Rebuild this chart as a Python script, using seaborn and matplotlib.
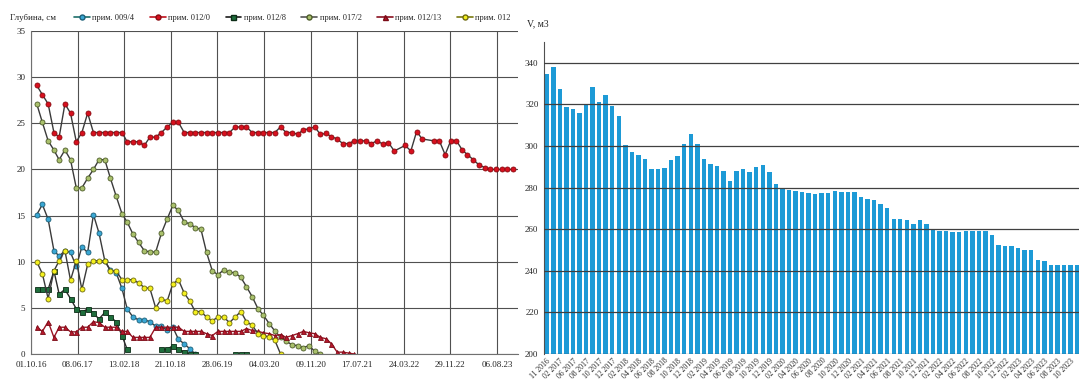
import numpy as np
import pandas as pd
import matplotlib
matplotlib.use('Agg')
import matplotlib.pyplot as plt
from matplotlib.lines import Line2D
import seaborn as sns

sns.set_style('white')
plt.rcParams['font.family'] = ['Liberation Serif', 'DejaVu Serif']

# ---------------------- data: left chart (depth, cm) ----------------------
# monthly measurements starting 2016-11; None = no measurement
months = pd.date_range('2016-11-01', periods=85, freq='MS')

s_009_4 = [15.1, 16.2, 14.6, 11.2, 10.6, 11.2, 11.0, 9.5, 11.6, 11.0,
           15.1, 13.1, 10.1, 9.1, 8.8, 7.1, 4.9, 4.0, 3.7, 3.7,
           3.5, 3.0, 3.0, 2.6, 2.9, 1.6, 1.1, 0.55, 0.0]

s_012_0 = [29.1, 28.1, 27.1, 24.0, 23.5, 27.1, 26.1, 23.0, 24.0, 26.1,
           24.0, 24.0, 24.0, 24.0, 24.0, 24.0, 23.0, 23.0, 23.0, 22.6,
           23.5, 23.5, 24.0, 24.6, 25.1, 25.1, 24.0, 24.0, 24.0, 24.0,
           24.0, 24.0, 24.0, 24.0, 24.0, 24.6, 24.6, 24.6, 24.0, 24.0,
           24.0, 24.0, 24.0, 24.6, 24.0, 24.0, 23.8, 24.3, 24.4, 24.6,
           23.8, 23.9, 23.55, 23.3, 22.8, 22.8, 23.1, 23.1, 23.1, 22.8,
           23.1, 22.75, 22.9, 22.0, None, 22.6, 22.0, 24.1, 23.3, None,
           23.1, 23.1, 21.6, 23.1, 23.1, 22.1, 21.6, 21.05, 20.5, 20.2,
           20.0, 20.0, 20.0, 20.0, 20.0]

s_012_8 = [7.0, 7.0, 7.0, 9.0, 6.5, 7.0, 6.0, 4.9, 4.5, 4.9,
           4.4, 3.8, 4.5, 4.0, 3.5, 2.0, 0.5, None, None, None,
           None, None, 0.5, 0.5, 0.9, 0.5, 0.2, 0.0, 0.0, None,
           None, None, None, None, None, 0.0, 0.0, 0.0]

s_017_2 = [27.1, 25.1, 23.1, 22.1, 21.05, 22.1, 21.05, 18.0, 18.0, 19.05,
           20.0, 21.05, 21.05, 19.05, 17.1, 15.2, 14.3, 13.0, 12.1, 11.2,
           11.05, 11.05, 13.1, 14.6, 16.1, 15.55, 14.3, 14.1, 13.7, 13.5,
           11.0, 9.0, 8.6, 9.1, 8.85, 8.8, 8.3, 7.3, 6.2, 4.9,
           4.2, 3.3, 2.5, 1.8, 1.4, 1.0, 0.9, 0.7, 0.9, 0.3, 0.0]

s_012_13 = [2.9, 2.45, 3.5, 1.8, 2.9, 2.9, 2.4, 2.4, 2.9, 2.9,
            3.5, 3.4, 2.9, 2.9, 2.9, 2.45, 2.45, 1.8, 1.8, 1.8,
            1.8, 2.9, 2.9, 2.9, 2.9, 2.9, 2.45, 2.45, 2.45, 2.45,
            2.2, 2.0, 2.45, 2.45, 2.45, 2.45, 2.45, 2.75, 2.55, 2.45,
            2.3, 2.2, 2.0, 2.1, 1.8, 2.0, 2.2, 2.45, 2.3, 2.2,
            1.8, 1.65, 1.1, 0.2, 0.2, 0.1, 0.0]

s_012_x = [10.0, 8.7, 6.0, 9.0, 10.1, 11.2, 8.0, 10.1, 7.0, 9.7,
           10.1, 10.1, 10.1, 9.0, 9.0, 8.05, 8.05, 8.05, 7.7, 7.2,
           7.1, 5.0, 6.0, 5.7, 7.6, 8.05, 6.6, 5.7, 4.6, 4.6,
           4.0, 3.6, 4.0, 4.0, 3.4, 4.0, 4.6, 3.5, 3.1, 2.2,
           2.0, 1.8, 1.5, 0.0]

series_names = ['прим. 009/4', 'прим. 012/0', 'прим. 012/8',
                'прим. 017/2', 'прим. 012/13', 'прим. 012']
series_values = [s_009_4, s_012_0, s_012_8, s_017_2, s_012_13, s_012_x]

# ---------------------- data: right chart (volume, m3) ----------------------
bar_periods = ['11 2016', '01 2017', '02 2017', '04 2017', '06 2017', '07 2017'] + \
    [d.strftime('%m %Y') for d in pd.date_range('2017-08-01', '2023-11-01', freq='MS')]

volumes = [334.4, 338.2, 327.5, 318.7, 317.6, 316.0, 320.0, 328.6, 321.1, 324.3,
           319.0, 314.2, 300.3, 297.1, 295.8, 293.9, 289.1, 289.1, 289.6, 293.1,
           295.2, 301.1, 305.9, 301.1, 293.9, 291.2, 290.2, 288.0, 283.0, 288.0,
           289.1, 287.7, 289.9, 290.7, 287.5, 281.9, 279.8, 278.7, 278.2, 277.9,
           277.4, 277.0, 277.4, 277.4, 278.2, 277.9, 277.9, 277.9, 275.5, 274.7,
           273.9, 272.0, 270.2, 265.1, 265.1, 264.5, 262.7, 264.5, 262.6, 259.8,
           259.0, 259.0, 258.6, 258.6, 259.2, 259.2, 259.2, 259.2, 257.0, 252.5,
           252.0, 252.0, 251.0, 250.1, 250.1, 245.1, 244.8, 242.7, 242.7, 242.7,
           242.7, 242.7]

# ---------------------- styles ----------------------
styles = {
    'прим. 009/4': dict(marker='o', markerfacecolor='#3aa7d4', markeredgecolor='#1c5f78', color='#3a3a3a'),
    'прим. 012/0': dict(marker='o', markerfacecolor='#d7101e', markeredgecolor='#8a0a10', color='#3a3a3a'),
    'прим. 012/8': dict(marker='s', markerfacecolor='#1f6e3c', markeredgecolor='#0b2c16', color='#2a2a2a'),
    'прим. 017/2': dict(marker='o', markerfacecolor='#a9c06c', markeredgecolor='#4e5d2a', color='#3a3a3a'),
    'прим. 012/13': dict(marker='^', markerfacecolor='#b8182c', markeredgecolor='#7a0a16', color='#9a1424'),
    'прим. 012': dict(marker='o', markerfacecolor='#f4f01e', markeredgecolor='#6e6a10', color='#3a3a3a'),
}
legend_line = {'прим. 009/4': '#1c6e6a', 'прим. 012/0': '#c0101c', 'прим. 012/8': '#1a1a1a',
               'прим. 017/2': '#555555', 'прим. 012/13': '#8a1020', 'прим. 012': '#7a7a10'}

fig = plt.figure(figsize=(10.79, 3.85), dpi=100)

# ---------------------- left chart ----------------------
ax1 = fig.add_axes([31 / 1079, 31 / 385, 487 / 1079, 323 / 385])

for name, vals in zip(series_names, series_values):
    df = pd.DataFrame({'date': months[:len(vals)], 'depth': pd.to_numeric(pd.Series(vals), errors='coerce')})
    df['idx'] = np.arange(len(df))
    df = df.dropna()
    # break the line where several months are missing
    df['seg'] = (df['idx'].diff().fillna(1) > 3).cumsum()
    sns.lineplot(data=df, x='date', y='depth', units='seg', estimator=None,
                 ax=ax1, linewidth=1.0, markersize=3.6, markeredgewidth=0.6,
                 legend=False, **styles[name])

x_start = pd.Timestamp('2016-10-01')
x_ticks = pd.date_range(x_start, periods=11, freq='250D')
ax1.set_xlim(x_start, x_start + pd.Timedelta(days=2613))
ax1.set_xticks(x_ticks)
ax1.set_xticklabels([d.strftime('%d.%m.%y') for d in x_ticks], fontsize=6.5)
ax1.set_ylim(0, 35)
ax1.set_yticks(range(0, 36, 5))
ax1.tick_params(axis='y', labelsize=6.5, length=0, pad=4)
ax1.tick_params(axis='x', length=0, pad=5)
ax1.grid(True, color='#505050', linewidth=0.8)
ax1.set_axisbelow(True)
ax1.set_xlabel('')
ax1.set_ylabel('')
for side in ['top', 'right']:
    ax1.spines[side].set_visible(False)
for side in ['left', 'bottom']:
    ax1.spines[side].set_color('#707070')
    ax1.spines[side].set_linewidth(0.8)

fig.text(10 / 1079, 1 - 18 / 385, 'Глубина, см', fontsize=6.5, va='center', ha='left')

handles = [Line2D([0], [0], color=legend_line[n], linewidth=1.2, marker=styles[n]['marker'],
                  markersize=3.6, markerfacecolor=styles[n]['markerfacecolor'],
                  markeredgecolor=styles[n]['markeredgecolor']) for n in series_names]
fig.legend(handles, series_names, loc='center left', bbox_to_anchor=(74 / 1079, 1 - 18 / 385),
           ncol=6, frameon=False, fontsize=6.0, handlelength=1.9, handletextpad=0.3,
           columnspacing=1.85, borderaxespad=0, borderpad=0)

# ---------------------- right chart ----------------------
ax2 = fig.add_axes([544 / 1079, 31 / 385, 535 / 1079, 312 / 385])
sns.barplot(x=bar_periods, y=volumes, color='#1d9ad6', saturation=1, width=0.68,
            linewidth=0, ax=ax2)
ax2.set_ylim(200, 350)
ax2.set_yticks(range(200, 341, 20))
ax2.set_xlim(-0.42, 81.3)
ax2.set_xticks(range(0, len(bar_periods), 2))
ax2.set_xticklabels(bar_periods[::2], rotation=45, ha='right', rotation_mode='anchor', fontsize=5.5)
ax2.tick_params(axis='y', labelsize=6.5, length=0, pad=4)
ax2.tick_params(axis='x', length=0, pad=2)
ax2.yaxis.grid(True, color='#404040', linewidth=0.9)
ax2.set_axisbelow(False)
for side in ['top', 'right', 'bottom']:
    ax2.spines[side].set_visible(False)
ax2.spines['left'].set_color('#505050')
ax2.spines['left'].set_linewidth(0.8)
ax2.set_xlabel('')
ax2.set_ylabel('')
fig.text(527 / 1079, 1 - 24 / 385, 'V, м3', fontsize=7, va='center', ha='left')

fig.savefig('out.png', dpi=100)
